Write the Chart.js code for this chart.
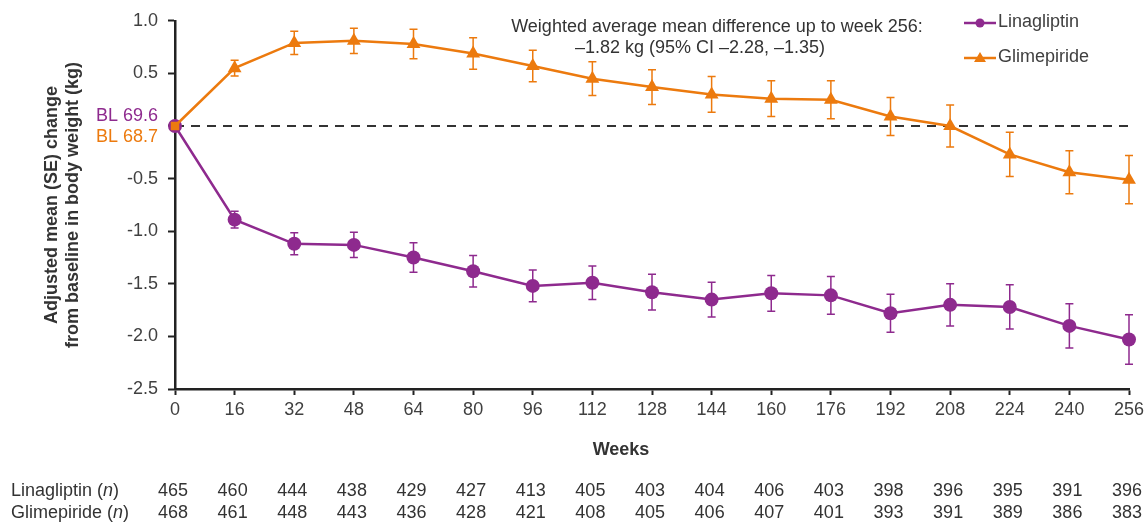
<!DOCTYPE html>
<html>
<head>
<meta charset="utf-8">
<script src="https://cdn.jsdelivr.net/npm/chart.js@4.4.1/dist/chart.umd.min.js"></script>
<style>
  html, body { margin: 0; padding: 0; background: #ffffff; }
  #wrap { width: 1145px; height: 522px; position: relative; }
</style>
</head>
<body>
<div id="wrap"><canvas id="c" width="1145" height="522"></canvas></div>
<script>
// ---- Data ----
const weeks = [0, 16, 32, 48, 64, 80, 96, 112, 128, 144, 160, 176, 192, 208, 224, 240, 256];
const linaMean = [0, -0.89, -1.12, -1.13, -1.25, -1.38, -1.52, -1.49, -1.58, -1.65, -1.59, -1.61, -1.78, -1.70, -1.72, -1.90, -2.03];
const linaSE   = [0, 0.08, 0.105, 0.12, 0.14, 0.15, 0.15, 0.16, 0.17, 0.165, 0.17, 0.18, 0.18, 0.20, 0.21, 0.21, 0.235];
const glimMean = [0, 0.55, 0.79, 0.81, 0.78, 0.69, 0.57, 0.45, 0.37, 0.30, 0.26, 0.25, 0.09, 0.00, -0.27, -0.44, -0.51];
const glimSE   = [0, 0.075, 0.11, 0.12, 0.14, 0.15, 0.15, 0.16, 0.165, 0.17, 0.17, 0.18, 0.18, 0.20, 0.21, 0.205, 0.23];
const linaN = [465, 460, 444, 438, 429, 427, 413, 405, 403, 404, 406, 403, 398, 396, 395, 391, 396];
const glimN = [468, 461, 448, 443, 436, 428, 421, 408, 405, 406, 407, 401, 393, 391, 389, 386, 383];
const seriesNames = ['Linagliptin', 'Glimepiride'];
const blLabels = ['BL 69.6', 'BL 68.7'];
const yTitle = ['Adjusted mean (SE) change', 'from baseline in body weight (kg)'];
const xTitle = 'Weeks';
const annotation = ['Weighted average mean difference up to week 256:', '\u20131.82 kg (95% CI \u20132.28, \u20131.35)'];

const PURPLE = '#8E2A8E';
const ORANGE = '#EC7A0E';
const TEXT = '#404040';
const AXIS = '#222222';
const FONT = '"Liberation Sans", Arial, sans-serif';

const linaData = weeks.map((w, i) => ({ x: w, y: linaMean[i], se: linaSE[i] }));
const glimData = weeks.map((w, i) => ({ x: w, y: glimMean[i], se: glimSE[i] }));

const errorBars = {
  id: 'errorBars',
  beforeDatasetsDraw(chart) {
    const ctx = chart.ctx;
    const xs = chart.scales.x, ys = chart.scales.y;
    // dashed zero line
    ctx.save();
    ctx.strokeStyle = '#333333';
    ctx.lineWidth = 2;
    ctx.setLineDash([9, 7]);
    ctx.beginPath();
    ctx.moveTo(xs.getPixelForValue(0), ys.getPixelForValue(0));
    ctx.lineTo(xs.getPixelForValue(256) + 2, ys.getPixelForValue(0));
    ctx.stroke();
    ctx.restore();
    chart.data.datasets.forEach((ds) => {
      ctx.save();
      ctx.strokeStyle = ds.borderColor;
      ctx.lineWidth = 1.5;
      ds.data.forEach((p) => {
        if (!p.se) return;
        const x = xs.getPixelForValue(p.x);
        const y1 = ys.getPixelForValue(p.y + p.se);
        const y2 = ys.getPixelForValue(p.y - p.se);
        ctx.beginPath();
        ctx.moveTo(x, y1); ctx.lineTo(x, y2);
        ctx.moveTo(x - 4, y1); ctx.lineTo(x + 4, y1);
        ctx.moveTo(x - 4, y2); ctx.lineTo(x + 4, y2);
        ctx.stroke();
      });
      ctx.restore();
    });
  }
};

const textPlugin = {
  id: 'texts',
  afterDraw(chart) {
    const ctx = chart.ctx;
    const xs = chart.scales.x, ys = chart.scales.y;
    ctx.save();
    // Y title
    ctx.fillStyle = '#333333';
    ctx.font = 'bold 18px ' + FONT;
    ctx.textAlign = 'center';
    ctx.textBaseline = 'middle';
    const yc = (ys.top + ys.bottom) / 2;
    ctx.save();
    ctx.translate(52, yc);
    ctx.rotate(-Math.PI / 2);
    ctx.fillText(yTitle[0], 0, 0);
    ctx.restore();
    ctx.save();
    ctx.translate(73, yc);
    ctx.rotate(-Math.PI / 2);
    ctx.fillText(yTitle[1], 0, 0);
    ctx.restore();
    // X title
    ctx.fillText(xTitle, 621, 450);
    // BL labels
    ctx.font = '18px ' + FONT;
    ctx.textAlign = 'right';
    const y0 = ys.getPixelForValue(0);
    ctx.fillStyle = PURPLE;
    ctx.fillText(blLabels[0], 158, y0 - 10);
    ctx.fillStyle = ORANGE;
    ctx.fillText(blLabels[1], 158, y0 + 11);
    // Annotation
    ctx.fillStyle = '#333333';
    ctx.textAlign = 'center';
    ctx.fillText(annotation[0], 717, 27);
    ctx.fillText(annotation[1], 700, 48);
    // Legend
    const legend = [
      { name: seriesNames[0], color: PURPLE, style: 'circle', y: 23 },
      { name: seriesNames[1], color: ORANGE, style: 'triangle', y: 58 }
    ];
    legend.forEach((l) => {
      ctx.strokeStyle = l.color;
      ctx.lineWidth = 2.5;
      ctx.beginPath();
      ctx.moveTo(964, l.y); ctx.lineTo(996, l.y);
      ctx.stroke();
      ctx.fillStyle = l.color;
      ctx.beginPath();
      if (l.style === 'circle') {
        ctx.arc(980, l.y, 4.5, 0, Math.PI * 2);
      } else {
        ctx.moveTo(980, l.y - 6); ctx.lineTo(986, l.y + 4); ctx.lineTo(974, l.y + 4); ctx.closePath();
      }
      ctx.fill();
      ctx.fillStyle = TEXT;
      ctx.textAlign = 'left';
      ctx.fillText(l.name, 998, l.y - 1);
    });
    // n table
    ctx.fillStyle = '#333333';
    const rows = [
      { name: seriesNames[0], vals: linaN, y: 491 },
      { name: seriesNames[1], vals: glimN, y: 513 }
    ];
    rows.forEach((r) => {
      ctx.textAlign = 'left';
      ctx.font = '18px ' + FONT;
      let x = 11;
      const a = r.name + ' (';
      ctx.fillText(a, x, r.y); x += ctx.measureText(a).width;
      ctx.font = 'italic 18px ' + FONT;
      ctx.fillText('n', x, r.y); x += ctx.measureText('n').width;
      ctx.font = '18px ' + FONT;
      ctx.fillText(')', x, r.y);
      ctx.textAlign = 'center';
      r.vals.forEach((v, i) => {
        ctx.fillText(String(v), xs.getPixelForValue(weeks[i]) - 2, r.y);
      });
    });
    ctx.restore();
  }
};

new Chart(document.getElementById('c'), {
  type: 'line',
  data: {
    datasets: [
      {
        label: seriesNames[0], data: linaData, borderColor: PURPLE, backgroundColor: PURPLE, order: 1, clip: false,
        borderWidth: 2.5, pointStyle: 'circle', pointRadius: 7, pointBorderWidth: 0, tension: 0
      },
      {
        label: seriesNames[1], data: glimData, borderColor: ORANGE, backgroundColor: ORANGE, order: 0, clip: false,
        borderWidth: 2.5, pointStyle: weeks.map((w, i) => i === 0 ? 'rect' : 'triangle'),
        pointRadius: weeks.map((w, i) => i === 0 ? 6 : 8), pointBorderWidth: 0, tension: 0
      }
    ]
  },
  options: {
    responsive: false,
    animation: false,
    devicePixelRatio: 1,
    layout: { padding: { top: 20, right: 16, left: 0, bottom: 0 } },
    plugins: { legend: { display: false }, tooltip: { enabled: false } },
    scales: {
      x: {
        type: 'linear', min: 0, max: 256,
        afterFit: (s) => { s.height = 133; s.paddingRight = 0; },
        afterBuildTicks: (s) => { s.ticks = weeks.map((w) => ({ value: w })); },
        ticks: { color: TEXT, font: { family: FONT, size: 18 }, padding: 4, maxRotation: 0, autoSkip: false },
        grid: { drawOnChartArea: false, drawTicks: true, tickLength: 6, color: AXIS, tickWidth: 2 },
        border: { display: true, color: AXIS, width: 2.5 }
      },
      y: {
        min: -2.5, max: 1.0,
        afterFit: (s) => { s.width = 175; },
        ticks: {
          stepSize: 0.5, color: TEXT, font: { family: FONT, size: 18 }, padding: 10,
          callback: (v) => Math.abs(v) < 1e-9 ? '' : v.toFixed(1)
        },
        grid: { drawOnChartArea: false, drawTicks: true, tickLength: 7, color: AXIS, tickWidth: 2 },
        border: { display: true, color: AXIS, width: 2.5 }
      }
    }
  },
  plugins: [errorBars, textPlugin]
});
</script>
</body>
</html>
